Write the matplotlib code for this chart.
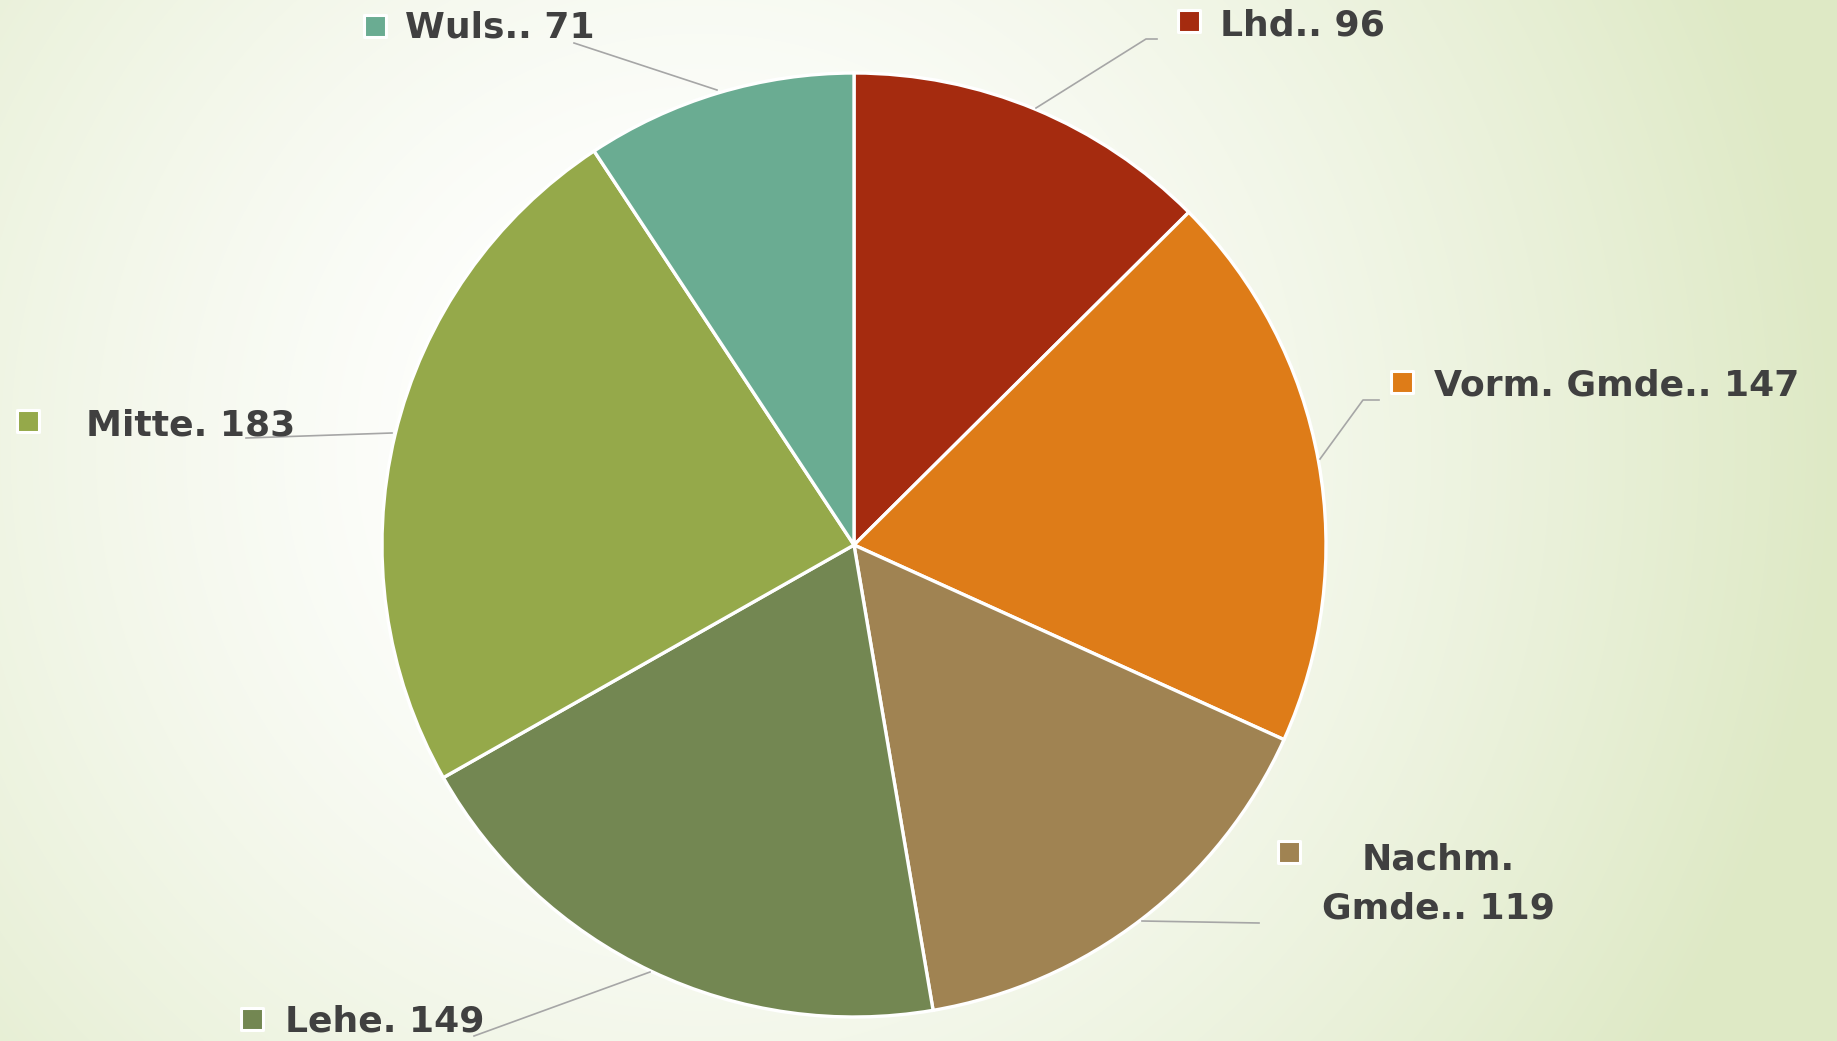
import numpy as np
import matplotlib.pyplot as plt

# --- chart data ---
labels = ["Lhd.", "Vorm. Gmde.", "Nachm. Gmde.", "Lehe", "Mitte", "Wuls."]
values = [96, 147, 119, 149, 183, 71]
colors = ["#A52B0F", "#DE7C18", "#A08352", "#738752", "#95A94A", "#6AAC92"]

W, H = 1837, 1041
CX, CY, R = 854, 1041 - 545, 472
TXT = "#404040"
FONT = "DejaVu Sans"


def background(ax):
    yy, xx = np.mgrid[0:H, 0:W]
    d = np.hypot(xx - 700, yy - 450)
    t = np.clip((d - 150) / 990.0, 0, 1) ** 1.3
    inner = np.array([255, 255, 255]) / 255.0
    outer = np.array([222, 233, 197]) / 255.0
    img = inner[None, None, :] * (1 - t[..., None]) + outer[None, None, :] * t[..., None]
    ax.imshow(img, extent=(0, W, 0, H), origin="upper", zorder=0, aspect="auto")


def label(ax, sq, txt_xy, text, color, leader, ha="left"):
    ax.scatter([sq[0]], [H - sq[1]], marker="s", s=260, color=color,
               edgecolors="white", linewidths=2.2, zorder=5)
    ax.text(txt_xy[0], H - txt_xy[1], text, ha=ha, va="center", fontsize=26,
            fontweight="bold", color=TXT, family=FONT, zorder=6,
            linespacing=1.55)
    lx = [p[0] for p in leader]
    ly = [H - p[1] for p in leader]
    ax.plot(lx, ly, color="#A6A6A6", lw=1.2, zorder=4)


fig = plt.figure(figsize=(W / 100, H / 100), dpi=100)
ax = fig.add_axes([0, 0, 1, 1])
ax.set_xlim(0, W)
ax.set_ylim(0, H)
ax.axis("off")
background(ax)

ax.pie(values, colors=colors, startangle=90, counterclock=False,
       center=(CX, CY), radius=R, frame=True,
       wedgeprops=dict(edgecolor="white", linewidth=2.4, zorder=2))
ax.set_xlim(0, W)
ax.set_ylim(0, H)
ax.set_aspect("auto")
ax.axis("off")

txt = [f"{l}. {v}" for l, v in zip(labels, values)]

label(ax, (1189, 21), (1220, 26), txt[0], colors[0],
      [(1157, 39), (1146, 39), (1036, 108)])
label(ax, (1402, 382), (1434, 385), txt[1], colors[1],
      [(1379, 400), (1363, 400), (1320, 459)])
label(ax, (1289, 852), (1438, 884), "Nachm.\nGmde.. 119", colors[2],
      [(1259, 923), (1142, 921)], ha="center")
label(ax, (252, 1019), (285, 1022), txt[3], colors[3],
      [(474, 1036), (650, 972)])
label(ax, (28, 421), (86, 425), txt[4], colors[4],
      [(246, 438), (392, 433)])
label(ax, (375, 26), (405, 27), txt[5], colors[5],
      [(574, 43), (717, 90)])

fig.savefig("out.png", dpi=100)
